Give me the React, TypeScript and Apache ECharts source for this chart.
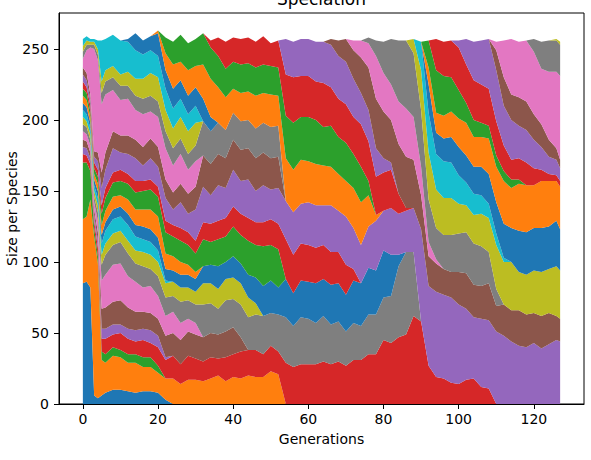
import React, { useEffect, useRef } from "react";
import * as echarts from "echarts";

// Generations sampled on the x axis
const GENS = [0, 1, 2, 3, 4, 5, 6, 8, 10, 12, 14, 16, 18, 20, 22, 24, 26, 28, 30, 32, 34, 36, 38, 40, 42, 44, 46, 48, 50, 52, 54, 56, 58, 60, 62, 64, 66, 68, 70, 72, 74, 76, 78, 80, 82, 84, 86, 88, 90, 92, 94, 96, 98, 100, 102, 104, 106, 108, 110, 112, 114, 116, 118, 120, 122, 124, 126, 127];

const X_TICKS = [0, 20, 40, 60, 80, 100, 120];
const Y_TICKS = [0, 50, 100, 150, 200, 250];

// Size of each species, from its first generation onward (one value per sampled generation)
const sp01 = [85, 86, 82, 6, 4, 6, 8, 10, 10, 9, 8, 9, 9, 8, 3];
const sp02 = [45, 46, 62, 112, 95, 25, 21, 24, 23, 20, 21, 17, 17, 14, 15, 18, 14, 17, 17, 16, 18, 20, 16, 19, 18, 20, 19, 19, 23, 21];
const sp03 = [40, 38, 20, 6, 5, 6, 6, 6, 5, 6, 6, 7, 7, 5];
const sp04 = [6, 5, 5, 5, 6, 9, 11, 9, 12, 11, 9, 12, 10, 13, 13, 16, 14, 17, 15, 14, 15, 12, 17, 16, 19, 18, 19, 16, 18, 16, 29, 26, 28, 28, 28, 30, 28, 30, 27, 31, 31, 35, 35, 45, 43, 47, 49, 62, 58, 27, 19, 18, 15, 14, 17, 18, 12, 11];
const sp05 = [5, 5, 4, 4, 5, 7, 7, 7, 6, 7, 8, 8, 9, 8, 2];
const sp06 = [5, 5, 4, 4, 6, 14, 15, 16, 17, 15, 13, 12, 12, 12, 15, 16, 17, 17, 17, 17, 17, 17, 18, 19, 10];
const sp07 = [6, 5, 5, 5, 8, 20, 23, 26, 26, 22, 21, 17, 19, 16, 14, 15, 12, 9, 8];
const sp08 = [5, 5, 4, 4, 6, 11, 14, 14, 15, 16, 13, 15, 12, 14, 13, 11, 15, 13, 13, 23, 21, 18, 22, 20, 23, 23, 25, 27, 23, 26, 32, 29, 33, 32, 29, 32, 28, 28, 24, 26, 24, 28, 28, 30, 33, 50, 58, 45];
const sp09 = [5, 4, 4, 4, 5, 7, 8, 8, 8, 9, 9, 10, 10, 10, 10, 10, 10, 9, 9, 15, 14, 14, 15, 15, 15, 14, 8];
const sp10 = [5, 5, 4, 4, 5, 8, 9, 10, 10, 11, 10, 9, 9, 8, 2];
const sp11 = [5, 5, 4, 4, 5, 6, 6, 7, 7, 8, 8, 9, 9, 9, 8, 8, 9, 9, 9, 12, 13, 16, 12, 15, 14, 16, 18, 21, 23, 19, 27, 23, 26, 26, 28, 26, 28, 27, 26, 30, 30, 33, 31, 33, 29, 8];
const sp12 = [5, 5, 4, 4, 5, 7, 8, 9, 8, 10, 11, 12, 14, 15, 11, 10, 9, 7, 5];
const sp13 = [5, 5, 4, 4, 5, 8, 9, 10, 10, 11, 12, 13, 14, 14, 15, 14, 15, 14, 13, 19, 16, 19, 18, 21, 20, 24, 23, 28, 25, 27];
const sp14 = [5, 4, 4, 4, 5, 6, 7, 7, 8, 7, 8, 7, 7, 7, 8, 8, 9, 9, 9, 12, 13, 13, 13, 14, 15, 16, 16, 17, 18, 18, 28, 27, 26, 26, 25, 24, 23, 22, 21, 8];
const sp15 = [5, 5, 4, 4, 6, 12, 13, 17, 12, 14, 16, 11, 15, 14, 16, 11, 18, 13, 22, 25, 20, 25, 21, 26, 23, 27, 22, 26, 21, 25, 27, 30, 28, 30, 30, 28, 33, 29, 34, 29, 27, 29, 35, 28, 33, 29, 29, 31, 65, 56, 60, 59, 60, 56, 50, 43, 48, 48, 51, 48, 44, 41, 40, 43, 39, 42, 45, 44];
const sp16 = [5, 5, 4, 4, 6, 11, 12, 12, 12, 13, 13, 13, 14, 14, 13, 12, 13, 14, 16, 22, 22, 22, 21, 21, 22, 22, 23, 23, 22, 22];
const sp17 = [6, 16, 33, 72, 65, 48, 41, 29, 25, 26, 21, 23, 19, 21, 22, 19, 21, 17, 18];
const sp18 = [5, 4, 2, 3, 4, 8, 9, 9, 10, 9, 10, 11, 11, 11, 12, 12, 11, 11, 11, 24, 23, 22, 20, 19, 20, 20, 21, 21, 22, 22];
const sp19 = [4, 3, 2, 2, 4, 8, 8, 8, 8, 10, 12, 14, 16, 17, 15, 14, 15, 16, 16];
const sp20 = [5, 3, 2, 2, 6, 29, 22, 22, 24, 21, 20, 17, 16, 15, 15, 14, 13, 12, 12];
const sp21 = [2, 12, 10, 10, 16, 13, 14, 13, 13, 13, 16, 10];
const sp22 = [2, 12, 17, 13, 18, 15, 24, 27, 25, 23, 17, 20, 20, 23, 21, 23, 21, 30, 30, 31, 29, 29, 28, 27, 26, 25, 28, 30, 22, 4];
const sp23 = [11, 16, 19, 19, 19, 22, 22, 22, 20, 19, 20, 20, 20, 20, 20, 20, 30, 33, 30, 31, 31, 27, 29, 26, 27, 24, 25, 10];
const sp24 = [5, 13, 19, 17, 18, 18, 18, 20, 16, 19, 29, 32, 29, 29, 27, 31, 27, 27, 27, 26, 30, 28, 27, 27, 27, 14, 2];
const sp25 = [25, 25, 26, 26, 28, 29, 30, 30, 30, 27, 22, 22, 20, 10, 5];
const sp26 = [4, 11, 16, 20, 25, 30, 35, 33, 30, 35, 36, 34, 24, 21, 20, 18, 18, 23, 25, 23, 23, 26, 18, 22, 22, 25, 23, 21, 23, 22, 17, 16];
const sp27 = [7, 12, 17, 30, 27, 25, 30, 34, 30, 20, 10, 3];
const sp28 = [4, 11, 22, 32, 43, 48, 45, 40, 30, 22, 24, 26, 27, 29, 29, 28, 22, 12];
const sp29 = [10, 28, 33, 27, 26, 26, 21, 19, 20, 23, 24, 31, 30, 34, 27, 28, 30, 31, 31, 35, 34];
const sp30 = [20, 28, 25, 26, 25, 20, 16, 15, 13, 10, 8, 3];
const sp31 = [20, 15, 16, 18, 20, 19, 19, 20, 21, 22, 24, 24, 29, 30, 30, 31, 30, 32, 29];
const sp32 = [12, 14, 16, 18, 20, 23, 21, 21, 25, 25, 30, 28, 33, 33, 30, 33, 32, 28, 30];
const sp33 = [19, 30, 28, 24, 20, 14, 12, 10, 9, 8, 7, 6, 3];
const sp34 = [22, 24, 26, 30, 27, 28, 27, 26, 24, 18, 14, 15, 16, 12, 8, 5, 4, 4];
const sp35 = [5, 18, 27, 31, 35, 36, 28, 28, 23, 23, 20, 16, 12, 11, 9];
const sp36 = [14, 20, 18, 20, 20, 18, 16, 12, 8, 6];
const sp37 = [6, 26, 39, 39, 43, 44, 39, 48, 54, 59];
const sp38 = [9, 19, 22, 22, 22];
const sp39 = [1, 2];

const SPECIES = [sp01, sp02, sp03, sp04, sp05, sp06, sp07, sp08, sp09, sp10, sp11, sp12, sp13, sp14, sp15, sp16, sp17, sp18, sp19, sp20, sp21, sp22, sp23, sp24, sp25, sp26, sp27, sp28, sp29, sp30, sp31, sp32, sp33, sp34, sp35, sp36, sp37, sp38, sp39];
const FIRST_GEN = [0, 0, 0, 0, 0, 0, 0, 0, 0, 0, 0, 0, 0, 0, 0, 0, 0, 0, 0, 0, 12, 20, 22, 34, 54, 66, 72, 76, 88, 90, 92, 92, 92, 94, 100, 110, 110, 120, 126];

const TAB10 = ["#1f77b4", "#ff7f0e", "#2ca02c", "#d62728", "#9467bd", "#8c564b", "#e377c2", "#7f7f7f", "#bcbd22", "#17becf"];

const FONT = "DejaVu Sans";

export default function App() {
  const ref = useRef<HTMLDivElement>(null);

  useEffect(() => {
    if (!ref.current) return;
    const chart = echarts.init(ref.current, undefined, { renderer: "svg" });

    // Each row is [size, generation]; size is put first so that ECharts stacks it (not the generation).
    const series = SPECIES.map((sizes, k) => {
      const startIdx = GENS.indexOf(FIRST_GEN[k]);
      const data = GENS.map((g, i) => {
        const j = i - startIdx;
        return [j >= 0 && j < sizes.length ? sizes[j] : 0, g];
      });
      const color = TAB10[k % 10];
      return {
        type: "line",
        name: "Species " + (k + 1),
        stack: "speciation",
        data,
        encode: { x: 1, y: 0 },
        symbol: "none",
        silent: true,
        lineStyle: { width: 0 },
        itemStyle: { color },
        areaStyle: { color, opacity: 1 },
        emphasis: { disabled: true },
        z: 2,
      };
    });

    chart.setOption({
      animation: false,
      textStyle: { fontFamily: FONT },
      grid: {
        left: 59,
        right: 7,
        top: 13,
        bottom: 56,
        outerBoundsMode: "none",
        containLabel: false,
        show: true,
        borderColor: "#000",
        borderWidth: 1,
        backgroundColor: "transparent",
      },
      graphic: [
        {
          type: "text",
          x: 321.5,
          y: 7,
          z: 10,
          style: {
            text: "Speciation",
            fontSize: 17,
            fontFamily: FONT,
            fill: "#000",
            align: "center",
            verticalAlign: "bottom",
          },
        },
      ],
      xAxis: {
        type: "value",
        min: -6.35,
        max: 133.35,
        z: 5,
        name: "Generations",
        nameLocation: "middle",
        nameGap: 28,
        nameMoveOverlap: false,
        nameTextStyle: { fontSize: 14, color: "#000", fontFamily: FONT },
        splitLine: { show: false },
        axisLine: { show: true, onZero: false, lineStyle: { color: "#000", width: 1 } },
        axisTick: { show: true, customValues: X_TICKS, length: 5, lineStyle: { color: "#000", width: 1 } },
        axisLabel: { customValues: X_TICKS, fontSize: 14, color: "#000", fontFamily: FONT, margin: 8 },
      },
      yAxis: {
        type: "value",
        min: 0,
        max: 275.3,
        z: 5,
        name: "Size per Species",
        nameLocation: "middle",
        nameGap: 40,
        nameMoveOverlap: false,
        nameTextStyle: { fontSize: 14, color: "#000", fontFamily: FONT },
        splitLine: { show: false },
        axisLine: { show: true, onZero: false, lineStyle: { color: "#000", width: 1 } },
        axisTick: { show: true, customValues: Y_TICKS, length: 5, lineStyle: { color: "#000", width: 1 } },
        axisLabel: { customValues: Y_TICKS, fontSize: 14, color: "#000", fontFamily: FONT, margin: 10 },
      },
      series,
    });

    return () => chart.dispose();
  }, []);

  return (
    <div
      ref={ref}
      style={{ position: "absolute", left: 0, top: 0, width: 591, height: 460, background: "#fff" }}
    />
  );
}
